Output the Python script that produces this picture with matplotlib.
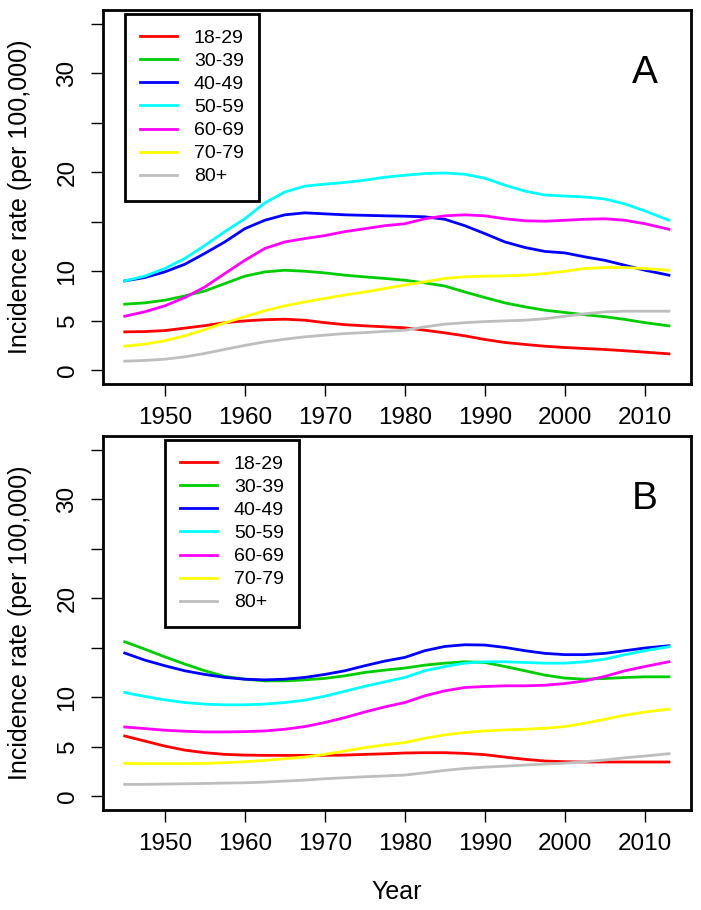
import matplotlib
matplotlib.use("Agg")
import matplotlib.pyplot as plt

plt.rcParams["font.family"] = ["Liberation Sans", "DejaVu Sans"]

years = [1945, 1947.5, 1950, 1952.5, 1955, 1957.5, 1960, 1962.5, 1965, 1967.5,
         1970, 1972.5, 1975, 1977.5, 1980, 1982.5, 1985, 1987.5, 1990, 1992.5,
         1995, 1997.5, 2000, 2002.5, 2005, 2007.5, 2010, 2013]
age_groups = ["18-29", "30-39", "40-49", "50-59", "60-69", "70-79", "80+"]
colors = ["#FF0000", "#00CD00", "#0000FF", "#00FFFF", "#FF00FF", "#FFFF00", "#BEBEBE"]

# panel A
a_18_29 = [3.87, 3.9, 4.0, 4.25, 4.5, 4.8, 4.98, 5.1, 5.15, 5.05, 4.8, 4.6, 4.48, 4.38,
           4.28, 4.04, 3.77, 3.47, 3.1, 2.8, 2.6, 2.42, 2.29, 2.19, 2.09, 1.96, 1.82, 1.65]
a_30_39 = [6.67, 6.8, 7.07, 7.5, 8.0, 8.75, 9.5, 9.93, 10.1, 10.0, 9.83, 9.6, 9.43, 9.27,
           9.09, 8.82, 8.5, 7.9, 7.34, 6.8, 6.4, 6.06, 5.83, 5.6, 5.4, 5.13, 4.8, 4.48]
a_40_49 = [9.02, 9.36, 9.93, 10.7, 11.8, 12.96, 14.3, 15.15, 15.7, 15.9, 15.8, 15.7, 15.65, 15.6,
           15.56, 15.5, 15.25, 14.6, 13.8, 12.96, 12.4, 12.0, 11.85, 11.45, 11.1, 10.6, 10.1, 9.6]
a_50_59 = [9.02, 9.5, 10.27, 11.28, 12.6, 14.0, 15.3, 16.9, 18.0, 18.6, 18.8, 18.97, 19.2, 19.5,
           19.7, 19.87, 19.93, 19.8, 19.4, 18.7, 18.1, 17.7, 17.6, 17.5, 17.3, 16.8, 16.1, 15.15]
a_60_69 = [5.45, 5.9, 6.5, 7.34, 8.4, 9.76, 11.1, 12.3, 12.96, 13.3, 13.6, 14.0, 14.3, 14.6,
           14.8, 15.3, 15.6, 15.7, 15.6, 15.3, 15.1, 15.05, 15.15, 15.25, 15.3, 15.15, 14.8, 14.24]
a_70_79 = [2.42, 2.63, 2.97, 3.47, 4.1, 4.78, 5.4, 6.0, 6.5, 6.9, 7.25, 7.6, 7.9, 8.25,
           8.6, 8.93, 9.27, 9.43, 9.5, 9.53, 9.6, 9.76, 10.0, 10.27, 10.37, 10.37, 10.27, 10.1]
a_80 = [0.91, 0.98, 1.11, 1.35, 1.69, 2.1, 2.5, 2.86, 3.13, 3.37, 3.54, 3.7, 3.8, 3.92,
        4.04, 4.38, 4.65, 4.8, 4.91, 4.98, 5.05, 5.2, 5.45, 5.7, 5.89, 5.96, 5.96, 5.96]

# panel B
b_18_29 = [6.08, 5.57, 5.06, 4.65, 4.39, 4.22, 4.15, 4.12, 4.12, 4.12, 4.12, 4.15, 4.22, 4.28,
           4.36, 4.39, 4.39, 4.32, 4.19, 3.95, 3.72, 3.55, 3.48, 3.45, 3.45, 3.45, 3.45, 3.45]
b_30_39 = [15.6, 14.86, 14.08, 13.35, 12.67, 12.1, 11.82, 11.65, 11.65, 11.75, 11.9, 12.16, 12.5, 12.74,
           12.94, 13.24, 13.44, 13.58, 13.51, 13.1, 12.67, 12.23, 11.93, 11.82, 11.89, 11.99, 12.06, 12.06]
b_40_49 = [14.46, 13.75, 13.18, 12.67, 12.3, 12.0, 11.82, 11.75, 11.82, 12.0, 12.3, 12.67, 13.18, 13.65,
           14.02, 14.7, 15.13, 15.3, 15.27, 15.03, 14.7, 14.43, 14.3, 14.3, 14.43, 14.7, 14.97, 15.2]
b_50_59 = [10.47, 10.07, 9.73, 9.46, 9.3, 9.23, 9.23, 9.3, 9.46, 9.7, 10.1, 10.6, 11.1, 11.55,
           12.0, 12.67, 13.1, 13.44, 13.58, 13.58, 13.51, 13.44, 13.44, 13.58, 13.85, 14.3, 14.7, 15.1]
b_60_69 = [6.99, 6.83, 6.66, 6.56, 6.49, 6.49, 6.52, 6.59, 6.76, 7.03, 7.44, 7.94, 8.5, 9.02,
           9.46, 10.14, 10.64, 10.98, 11.08, 11.15, 11.15, 11.21, 11.38, 11.65, 12.1, 12.67, 13.1, 13.58]
b_70_79 = [3.31, 3.28, 3.28, 3.28, 3.31, 3.38, 3.48, 3.61, 3.78, 3.95, 4.22, 4.56, 4.9, 5.18,
           5.41, 5.85, 6.19, 6.43, 6.59, 6.69, 6.76, 6.86, 7.03, 7.37, 7.77, 8.18, 8.5, 8.79]
b_80 = [1.19, 1.19, 1.22, 1.25, 1.28, 1.32, 1.35, 1.42, 1.52, 1.62, 1.76, 1.86, 1.96, 2.04,
        2.13, 2.36, 2.6, 2.8, 2.93, 3.03, 3.14, 3.24, 3.34, 3.48, 3.65, 3.88, 4.05, 4.29]

panel_a = [a_18_29, a_30_39, a_40_49, a_50_59, a_60_69, a_70_79, a_80]
panel_b = [b_18_29, b_30_39, b_40_49, b_50_59, b_60_69, b_70_79, b_80]

x_ticks = [1950, 1960, 1970, 1980, 1990, 2000, 2010]
y_ticks = [0, 5, 10, 15, 20, 25, 30, 35]
y_labels = ["0", "5", "10", "", "20", "", "30", ""]

fig = plt.figure(figsize=(7.01, 9.10), dpi=100)
ax_a = fig.add_axes([0.1469, 0.578, 0.8384, 0.411])
ax_b = fig.add_axes([0.1469, 0.1099, 0.8384, 0.411])


def draw_panel(ax, series, letter, leg_x):
    for vals, col, lab in zip(series, colors, age_groups):
        ax.plot(years, vals, color=col, lw=2.0, label=lab, solid_joinstyle="round")
    # R style 4% padding around the data range
    ax.set_xlim(1945 - 0.04 * 68, 2013 + 0.04 * 68)
    ax.set_ylim(0 - 0.04 * 35, 35 + 0.04 * 35)
    ax.set_xticks(x_ticks)
    ax.set_yticks(y_ticks)
    ax.set_yticklabels(y_labels, rotation=90, va="center")
    ax.tick_params(direction="out", length=8.6, width=1.0, labelsize=17.5, pad=8)
    ax.tick_params(axis="y", pad=9)
    for sp in ax.spines.values():
        sp.set_linewidth(2.0)
    ax.text(2010, 30, letter, fontsize=28, ha="center", va="center")
    leg = ax.legend(loc="upper left", bbox_to_anchor=(leg_x, 36),
                    bbox_transform=ax.transData, fontsize=14,
                    handlelength=1.9, handletextpad=0.85, labelspacing=0.28,
                    borderpad=0.8, borderaxespad=0, fancybox=False,
                    framealpha=1, edgecolor="black")
    leg.get_frame().set_linewidth(2.0)


draw_panel(ax_a, panel_a, "A", 1945)
draw_panel(ax_b, panel_b, "B", 1950)

fig.text(20 / 701, 1 - 197 / 910, "Incidence rate (per 100,000)", rotation=90,
         ha="center", va="center", fontsize=18)
fig.text(20 / 701, 1 - 623 / 910, "Incidence rate (per 100,000)", rotation=90,
         ha="center", va="center", fontsize=18)
fig.text(397 / 701, 1 - 892 / 910, "Year", ha="center", va="center", fontsize=18)

fig.savefig("out.png", dpi=100)
